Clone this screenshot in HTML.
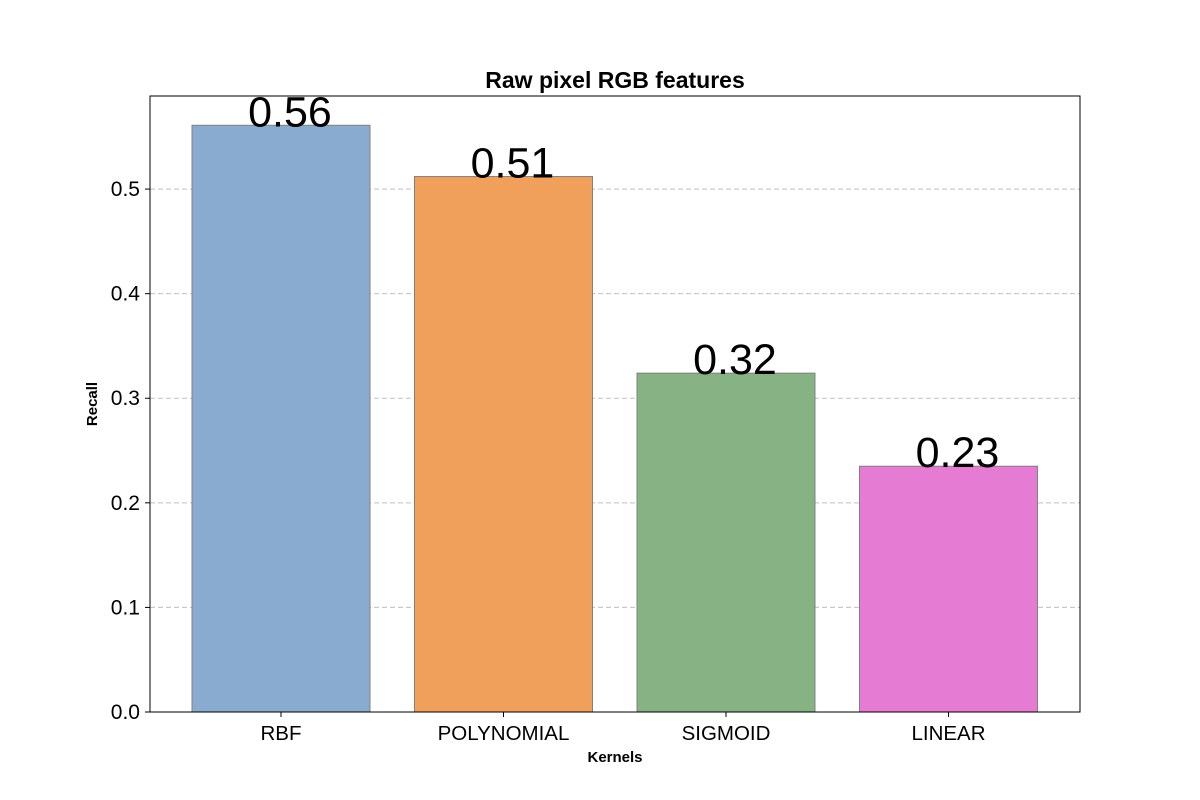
<!DOCTYPE html>
<html><head><meta charset="utf-8">
<style>
html,body{margin:0;padding:0;background:#fff;}
svg{display:block;font-family:"Liberation Sans","DejaVu Sans",sans-serif;}
</style></head>
<body>
<svg id="chart" width="1200" height="800" viewBox="0 0 1200 800">
<text x="615" y="88" text-anchor="middle" font-size="23" font-weight="bold">Raw pixel RGB features</text>
<g id="grid"></g>
<g id="bars"></g>
<g id="labels"></g>
<rect x="150" y="96" width="930" height="616" fill="none" stroke="#000" stroke-width="1"/>
<g id="yticks"></g>
<g id="xticks"></g>
<text x="615" y="762" text-anchor="middle" font-size="15" font-weight="bold">Kernels</text>
<text transform="translate(97,404) rotate(-90)" text-anchor="middle" font-size="15" font-weight="bold">Recall</text>
</svg>
<script>
const categories = ["RBF","POLYNOMIAL","SIGMOID","LINEAR"];
const recallValues = [0.561, 0.512, 0.324, 0.235];
const valueLabels = ["0.56","0.51","0.32","0.23"];
const barColors = ["#8aabd0","#f0a05a","#87b283","#e67bd4"];
const yTicks = [0.0,0.1,0.2,0.3,0.4,0.5];
const yTickLabels = ["0.0","0.1","0.2","0.3","0.4","0.5"];

const NS="http://www.w3.org/2000/svg";
const plotL=150, plotR=1080, plotT=96, plotB=712;
const yMax=0.589;
function yScale(v){return plotB-(v/yMax)*(plotB-plotT);}
const step=222.5, firstCenter=281;
function xScale(i){return firstCenter+i*step;}
const barW=178;
function mk(tag,attrs,parent){const e=document.createElementNS(NS,tag);for(const k in attrs)e.setAttribute(k,attrs[k]);parent.appendChild(e);return e;}

const grid=document.getElementById('grid'), yt=document.getElementById('yticks');
yTicks.forEach((t,i)=>{
  const y=yScale(t);
  if(t>0){const g=mk('line',{x1:plotL,x2:plotR,y1:y,y2:y,stroke:'#c0c0c0','stroke-dasharray':'5,3','stroke-width':1},grid);
  
  }
  const tk=mk('line',{x1:plotL-5,x2:plotL,y1:y,y2:y,stroke:'#000'},yt);
  
  
  const tx=mk('text',{x:plotL-10,y:y+7,'text-anchor':'end','font-size':21},yt);
  tx.textContent=yTickLabels[i];
  
  
});
const bars=document.getElementById('bars'), labels=document.getElementById('labels'), xt=document.getElementById('xticks');
categories.forEach((c,i)=>{
  const cx=xScale(i), y=yScale(recallValues[i]);
  const r=mk('rect',{x:cx-barW/2,y:y,width:barW,height:plotB-y,fill:barColors[i],stroke:'#808080','stroke-width':1},bars);
  
  
  const l=mk('text',{x:cx+9,y:y+1,'text-anchor':'middle','font-size':43},labels);
  l.textContent=valueLabels[i];
  
  
  const tk=mk('line',{x1:cx,x2:cx,y1:plotB,y2:plotB+5,stroke:'#000'},xt);
  
  
  const tx=mk('text',{x:cx,y:740,'text-anchor':'middle','font-size':20.5},xt);
  tx.textContent=c;
  
  
});
</script>
</body></html>
